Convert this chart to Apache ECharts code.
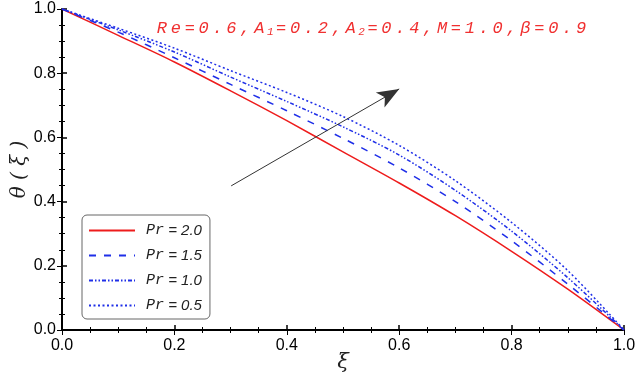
<!DOCTYPE html>
<html><head><meta charset="utf-8">
<script src="https://cdn.jsdelivr.net/npm/echarts@6/dist/echarts.min.js"></script>
<style>html,body{margin:0;padding:0;background:#fff}#c{width:638px;height:378px}</style>
</head><body><div id="c"></div>
<script>
const xi = [0, 0.1, 0.2, 0.3, 0.4, 0.5, 0.6, 0.7, 0.8, 0.9, 1.0];
const pr20 = [1, 0.918, 0.835, 0.745, 0.652, 0.555, 0.458, 0.356, 0.245, 0.127, 0];
const pr15 = [1, 0.928, 0.848, 0.765, 0.683, 0.597, 0.505, 0.400, 0.278, 0.143, 0];
const pr10 = [1, 0.935, 0.866, 0.788, 0.712, 0.633, 0.545, 0.435, 0.308, 0.163, 0];
const pr05 = [1, 0.940, 0.878, 0.808, 0.740, 0.665, 0.575, 0.465, 0.335, 0.185, 0];
const seriesNames = ['Pr = 2.0', 'Pr = 1.5', 'Pr = 1.0', 'Pr = 0.5'];
const arrowFrom = [0.301, 0.449];
const arrowTo = [0.600, 0.751];
const titleParts = [['Re=0.6,A',0],['1',1],['=0.2,A',0],['2',1],['=0.4,M=1.0,β=0.9',0]];

const pairs = ys => xi.map((x, i) => [x, ys[i]]);
let rich = '';
titleParts.forEach(([t, sub]) => {
  for (const ch of t) rich += sub ? '{s|' + ch + '}' : '{c|' + ch + '}';
});
const blue = '#1f2fe8';
const red = '#ee1c1c';
const chart = echarts.init(document.getElementById('c'));
const tickFmt = v => v.toFixed(1);
chart.setOption({
  animation: false,
  title: {
    text: rich, left: 150, top: 14,
    textStyle: {
      fontWeight: 'normal',
      rich: {
        c: {width: 13.9, align: 'center', fontSize: 17, fontWeight: 'normal', fontStyle: 'italic', fontFamily: 'Liberation Mono', color: '#f03030'},
        s: {width: 8, align: 'center', fontSize: 11, fontWeight: 'normal', fontStyle: 'italic', fontFamily: 'Liberation Mono', color: '#f03030', padding: [8, 0, 0, 0]}
      }
    }
  },
  grid: {left: 62, right: 14, top: 9, bottom: 48, containLabel: false, outerBoundsMode: 'none'},
  legend: {
    orient: 'vertical', left: 82, top: 215,
    itemWidth: 46, itemHeight: 10, itemGap: 10,
    padding: [8, 8, 6, 6],
    borderColor: '#666', borderWidth: 1, borderRadius: 5,
    itemStyle: {opacity: 0},
    data: seriesNames,
    formatter: n => '{p|Pr}{t|' + n.slice(2) + '}',
    textStyle: {
      rich: {
        p: {fontFamily: 'Liberation Mono', fontStyle: 'italic', fontSize: 15, color: '#222', padding: [0, 0, 0, 6]},
        t: {fontFamily: 'Liberation Sans', fontStyle: 'italic', fontSize: 15, color: '#222'}
      }
    }
  },
  xAxis: [{
    type: 'value', min: 0, max: 1, interval: 0.2,
    name: 'ξ', nameLocation: 'middle', nameGap: 22, nameMoveOverlap: false,
    nameTextStyle: {fontFamily: 'DejaVu Serif', fontStyle: 'italic', fontSize: 21, color: '#222'},
    axisLine: {lineStyle: {color: '#000', width: 2}},
    axisTick: {inside: true, length: 5, lineStyle: {color: '#000', width: 1.5}},
    minorTick: {show: true, splitNumber: 4, length: 3, lineStyle: {color: '#000'}},
    splitLine: {show: false},
    axisLabel: {formatter: tickFmt, fontFamily: 'Liberation Sans', fontSize: 16, color: '#000', margin: 8}
  }, {
    type: 'value', min: 0, max: 1, interval: 0.2, position: 'top',
    axisLine: {show: true, lineStyle: {color: '#000', width: 1}},
    axisTick: {inside: true, length: 5, lineStyle: {color: '#000'}},
    minorTick: {show: true, splitNumber: 4, length: 3, lineStyle: {color: '#000'}},
    splitLine: {show: false}, axisLabel: {show: false}
  }],
  yAxis: [{
    type: 'value', min: 0, max: 1, interval: 0.2,
    name: 'θ ( ξ )', nameLocation: 'middle', nameGap: 32, nameRotate: 90, nameMoveOverlap: false,
    nameTextStyle: {fontFamily: 'DejaVu Serif', fontStyle: 'italic', fontSize: 20, color: '#222'},
    axisLine: {show: true, lineStyle: {color: '#000', width: 2}},
    axisTick: {show: true, inside: true, length: 5, lineStyle: {color: '#000', width: 1.5}},
    minorTick: {show: true, splitNumber: 4, length: 3, lineStyle: {color: '#000'}},
    splitLine: {show: false},
    axisLabel: {formatter: tickFmt, fontFamily: 'Liberation Sans', fontSize: 16, color: '#000', margin: 6}
  }, {
    type: 'value', min: 0, max: 1, interval: 0.2, position: 'right',
    axisLine: {show: true, lineStyle: {color: '#000', width: 1}},
    axisTick: {show: true, inside: true, length: 5, lineStyle: {color: '#000'}},
    minorTick: {show: true, splitNumber: 4, length: 3, lineStyle: {color: '#000'}},
    splitLine: {show: false}, axisLabel: {show: false}
  }],
  series: [
    {name: seriesNames[0], type: 'line', smooth: 0.3, symbol: 'none', data: pairs(pr20),
     lineStyle: {color: red, width: 1.5, type: 'solid'}, itemStyle: {color: red},
     markLine: {silent: true, symbol: ['none', 'arrow'], symbolSize: [13, 22], label: {show: false},
       lineStyle: {color: '#333', width: 1, type: 'solid'}, itemStyle: {color: '#000'},
       emphasis: {disabled: true},
       data: [[{coord: arrowFrom}, {coord: arrowTo}]]}},
    {name: seriesNames[1], type: 'line', smooth: 0.3, symbol: 'none', data: pairs(pr15),
     lineStyle: {color: blue, width: 1.5, type: [7, 8]}, itemStyle: {color: blue}},
    {name: seriesNames[2], type: 'line', smooth: 0.3, symbol: 'none', data: pairs(pr10),
     lineStyle: {color: blue, width: 1.5, type: [4, 2, 1.5, 2, 1.5, 2]}, itemStyle: {color: blue}},
    {name: seriesNames[3], type: 'line', smooth: 0.3, symbol: 'none', data: pairs(pr05),
     lineStyle: {color: blue, width: 1.5, type: [2, 2.5]}, itemStyle: {color: blue}}
  ]
});
</script></body></html>
